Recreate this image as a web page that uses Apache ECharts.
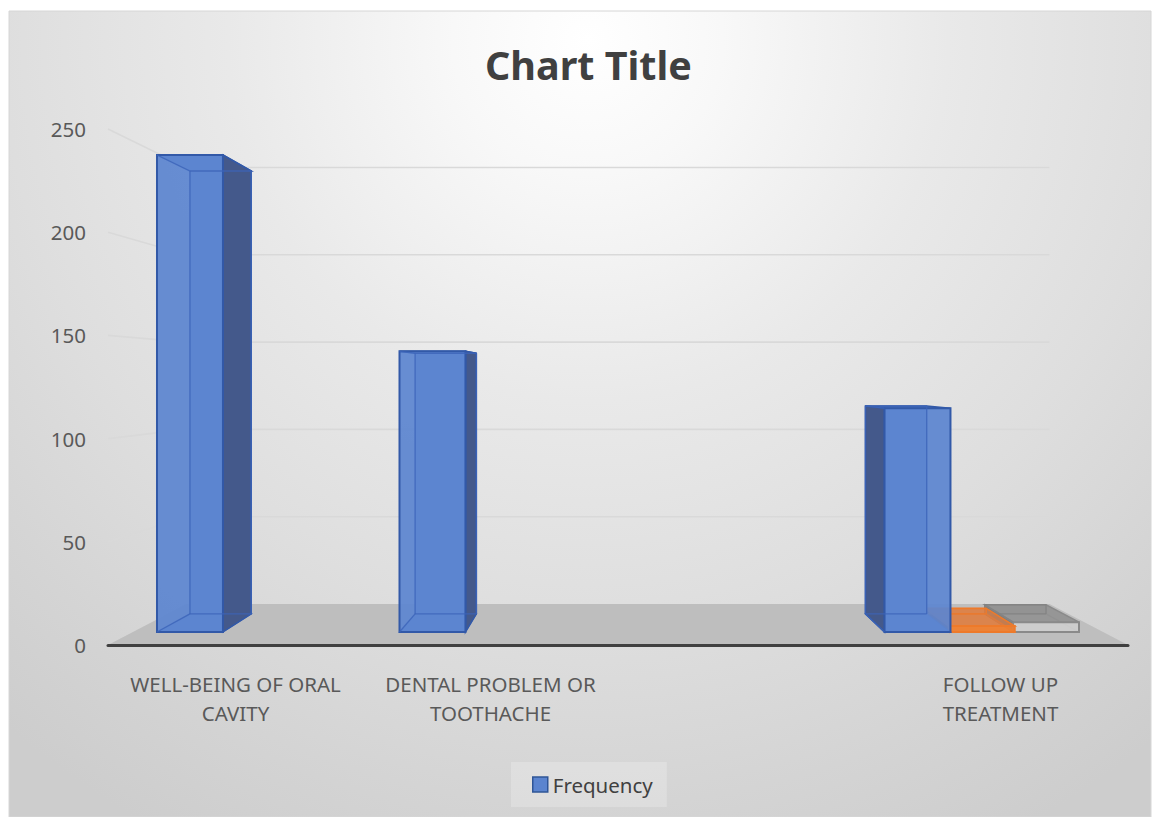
<!DOCTYPE html>
<html>
<head>
<meta charset="utf-8">
<script src="https://cdn.jsdelivr.net/npm/echarts@6/dist/echarts.min.js"></script>
<style>
html,body{margin:0;padding:0;background:#ffffff;}
#chart{width:1160px;height:817px;}
</style>
</head>
<body>
<div id="chart"></div>
<script>
// ---- data ----
const categories = ['WELL-BEING OF ORAL\nCAVITY', 'DENTAL PROBLEM OR\nTOOTHACHE', '', 'FOLLOW UP\nTREATMENT'];
const frequency = [243, 143, null, 114];
const series2Values = [null, null, null, 3];
const series3Values = [null, null, null, 5];
const yTicks = [0, 50, 100, 150, 200, 250];
const legendNames = ['Frequency'];

// ---- 3D look parameters (projection toward a vanishing point) ----
const VP_X = 0.5;      // fraction of grid width
const VP_Y = 0.4845;   // fraction of grid height
const T_FRONT = 0.049; // depth of bar front faces
const T_BACK = 0.117;  // depth of bar back faces
const T_WALL = 0.154;  // depth of back wall
const BAR_FRAC = 0.272;
const SLOT_FRAC = 0.265;

function proj(cs, x, y, t) {
  const vx = cs.x + cs.width * VP_X, vy = cs.y + cs.height * VP_Y;
  return [x + t * (vx - x), y + t * (vy - y)];
}

function makeBarRender(slot, c) {
  return function (params, api) {
    const v = api.value(1);
    if (v == null || isNaN(v) || v === 0) return null;
    const cs = params.coordSys;
    const cat = api.value(0);
    const base = api.coord([cat, 0]);
    const top = api.coord([cat, v]);
    const bandW = api.size([1, 0])[0];
    const bw = bandW * BAR_FRAC;
    const cx = base[0] + (slot - 1) * bandW * SLOT_FRAC;
    const x0 = cx - bw / 2, x1 = cx + bw / 2;
    const yb = base[1], yt = top[1];
    const F = [proj(cs, x0, yt, T_FRONT), proj(cs, x1, yt, T_FRONT), proj(cs, x1, yb, T_FRONT), proj(cs, x0, yb, T_FRONT)];
    const B = [proj(cs, x0, yt, T_BACK), proj(cs, x1, yt, T_BACK), proj(cs, x1, yb, T_BACK), proj(cs, x0, yb, T_BACK)];
    const leftOfVP = cx < cs.x + cs.width * VP_X;
    const side = leftOfVP ? [F[1], B[1], B[2], F[2]] : [B[0], F[0], F[3], B[3]];
    const topFace = [B[0], B[1], F[1], F[0]];
    const bottomFace = [B[3], B[2], F[2], F[3]];
    const poly = (pts, style) => ({ type: 'polygon', shape: { points: pts }, style: style });
    const line = (a, b) => ({ type: 'line', shape: { x1: a[0], y1: a[1], x2: b[0], y2: b[1] }, style: { stroke: c.inner, lineWidth: 1.3, fill: null } });
    return {
      type: 'group',
      children: [
        poly(B, { fill: c.back, stroke: c.inner, lineWidth: 1.2 }),
        poly(bottomFace, { fill: c.bottom, stroke: c.inner, lineWidth: 1.2 }),
        poly(topFace, { fill: c.top, stroke: c.edge, lineWidth: 1.5 }),
        poly(side, { fill: c.side, stroke: c.edge, lineWidth: 1.5 }),
        poly(F, { fill: c.front, stroke: c.edge, lineWidth: 2 }),
        line(B[0], B[3]), line(B[1], B[2]), line(B[3], B[2]), line(B[0], B[1]),
        line(F[3], B[3]), line(F[0], B[0])
      ]
    };
  };
}

const blueC = { back: '#5b84cf', bottom: '#5b84cf', top: '#5a83ce', side: '#44598b', front: 'rgba(92,133,208,0.93)', edge: '#3259a8', inner: 'rgba(60,100,185,0.8)' };
const orangeC = { back: 'rgba(230,120,50,0.55)', bottom: 'rgba(230,120,50,0.55)', top: 'rgba(222,124,62,0.7)', side: '#9a5a2c', front: 'rgba(240,128,48,0.9)', edge: '#ee7a2a', inner: 'rgba(238,122,42,0.8)' };
const grayC = { back: 'rgba(150,150,150,0.7)', bottom: 'rgba(190,190,190,0.8)', top: 'rgba(145,145,145,0.9)', side: '#7d7d7d', front: 'rgba(205,205,205,0.95)', edge: '#8a8a8a', inner: 'rgba(130,130,130,0.8)' };

const chart = echarts.init(document.getElementById('chart'), null, { renderer: 'svg' });

const bg = new echarts.graphic.RadialGradient(588, 40, 900, [
  { offset: 0, color: '#ffffff' },
  { offset: 0.15, color: '#f8f8f8' },
  { offset: 0.4, color: '#e9e9e9' },
  { offset: 0.65, color: '#dedede' },
  { offset: 0.85, color: '#d4d4d4' },
  { offset: 1, color: '#cdcdcd' }
], true);

const option = {
  backgroundColor: '#ffffff',
  animation: false,
  graphic: [{
    type: 'rect', z: -100, silent: true,
    shape: { x: 9, y: 11, width: 1142, height: 806 },
    style: { fill: bg, stroke: '#d6d6d6', lineWidth: 1 }
  }],
  title: {
    text: 'Chart Title',
    left: 480, top: 36,
    textStyle: { fontFamily: 'Noto Sans', fontSize: 39.5, fontWeight: 'bold', color: '#404040', lineHeight: 48 }
  },
  legend: {
    data: legendNames.map(n => ({ name: n, itemStyle: { color: '#5b84cf', borderColor: '#2f5597', borderWidth: 1.5 } })),
    left: 511, top: 762,
    icon: 'rect', itemWidth: 15, itemHeight: 15,
    padding: [8, 14, 8, 21],
    backgroundColor: 'rgba(255,255,255,0.22)',
    textStyle: { fontFamily: 'Noto Sans', fontSize: 20.5, color: '#404040', lineHeight: 29 }
  },
  grid: { left: 108, right: 32, top: 129, bottom: 172, containLabel: false },
  xAxis: {
    type: 'category', data: categories, z: 10,
    axisLine: { show: true, lineStyle: { color: '#404040', width: 3 } },
    axisTick: { show: false },
    axisLabel: { interval: 0, margin: 24, fontFamily: 'Noto Sans', fontSize: 20.5, color: '#595959', lineHeight: 29 },
    splitLine: { show: false }
  },
  yAxis: {
    type: 'value', min: 0, max: 250, interval: 50,
    axisLine: { show: false }, axisTick: { show: false },
    splitLine: { show: false },
    axisLabel: { margin: 22, fontFamily: 'Noto Sans', fontSize: 20.5, color: '#595959' }
  },
  series: [
    {
      name: 'gridlines', type: 'custom', z: 1, silent: true,
      data: yTicks.filter(v => v > 0).map(v => [0, v]),
      renderItem: function (params, api) {
        const cs = params.coordSys;
        const y = api.coord([0, api.value(1)])[1];
        const xl = cs.x, xr = cs.x + cs.width;
        return { type: 'polyline', shape: { points: [[xl, y], proj(cs, xl, y, T_WALL), proj(cs, xr, y, T_WALL)] }, style: { stroke: '#d9d9d9', lineWidth: 1.6, fill: null } };
      }
    },
    {
      name: 'floor', type: 'custom', z: 2, silent: true,
      data: [[0, 0]],
      renderItem: function (params, api) {
        const cs = params.coordSys;
        const y = api.coord([0, 0])[1];
        const xl = cs.x, xr = cs.x + cs.width;
        return { type: 'polygon', shape: { points: [[xl, y], [xr, y], proj(cs, xr, y, T_WALL), proj(cs, xl, y, T_WALL)] }, style: { fill: '#bebebe' } };
      }
    },
    { name: 'Series 3', type: 'custom', z: 3, data: series3Values.map((v, i) => [i, v]), renderItem: makeBarRender(2, grayC) },
    { name: 'Series 2', type: 'custom', z: 4, data: series2Values.map((v, i) => [i, v]), renderItem: makeBarRender(1, orangeC) },
    { name: 'Frequency', type: 'custom', z: 5, itemStyle: { color: '#5b84cf' }, data: frequency.map((v, i) => [i, v]), renderItem: makeBarRender(0, blueC) }
  ]
};
chart.setOption(option);
</script>
</body>
</html>
